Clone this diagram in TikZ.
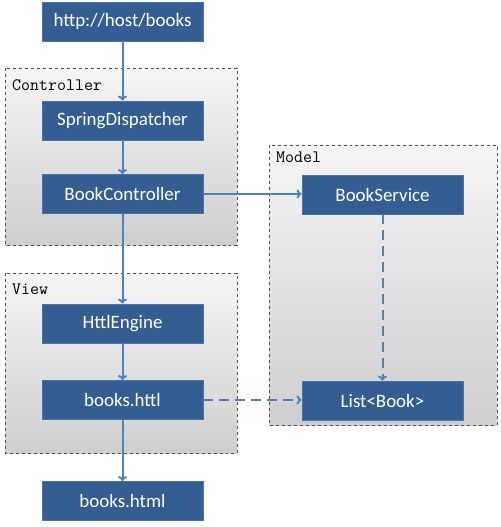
\documentclass[tikz,border=0pt]{standalone}
\usepackage{fontspec}
\usepackage{tikz}
\usetikzlibrary{arrows.meta}
\newfontfamily\boxfont{Carlito}
\definecolor{boxblue}{HTML}{345E92}
\definecolor{boxedge}{HTML}{4A74A8}
\definecolor{linkblue}{HTML}{4F81BD}
\definecolor{grpedge}{HTML}{505050}
\tikzset{
	box/.style={rectangle, fill=boxblue, draw=boxedge, line width=0.8bp, text=white,
		minimum width=161bp, minimum height=39bp, inner sep=0pt, font=\boxfont\fontsize{19}{21}\selectfont},
	group/.style={draw=grpedge, dashed, line width=0.8bp, top color=gray!8, bottom color=gray!38},
	grplabel/.style={anchor=north west, inner sep=0pt, font=\ttfamily\fontsize{17.5}{19}\selectfont},
	link/.style={draw=linkblue, line width=2bp, -{To[length=5bp,width=9bp]}},
	maybe/.style={link, dash pattern=on 10bp off 6bp}
}
\begin{document}
\begin{tikzpicture}[x=1bp, y=-1bp]
		%%%%% START %%%%%
		\useasboundingbox (0, 0) rectangle (501, 527);
		
		% groups
		\draw[group] (5, 68) rectangle (237, 245);
		\node[grplabel] (ctrllabel) at (12, 79) {Controller};
		\draw[group] (269, 145) rectangle (497, 425);
		\node[grplabel] (modellabel) at (276, 152) {Model};
		\draw[group] (5, 273) rectangle (237, 453);
		\node[grplabel] (viewlabel) at (12, 284) {View};
		
		% boxes
		\node[box] (url) at (122.5, 21.5) {http://host/books};
		\node[box] (dispatcher) at (122.5, 120.5) {SpringDispatcher};
		\node[box] (controller) at (122.5, 194) {BookController};
		\node[box] (engine) at (122.5, 323.5) {HttlEngine};
		\node[box] (template) at (122.5, 400) {books.httl};
		\node[box] (page) at (122.5, 501) {books.html};
		\node[box] (service) at (382.5, 194.5) {BookService};
		\node[box] (books) at (382.5, 400.5) {List<Book>};
		
		% links
		\draw[link] (url) -- (dispatcher);
		\draw[link] (dispatcher) -- (controller);
		\draw[link] (controller) -- (engine);
		\draw[link] (engine) -- (template);
		\draw[link] (template) -- (page);
		\draw[link] (controller.east) -- (controller.east -| service.west);
		\draw[maybe] (service) -- (books);
		\draw[maybe] (template.east) -- (template.east -| books.west);
		
		%%%%% END %%%%%
\end{tikzpicture}
\end{document}
